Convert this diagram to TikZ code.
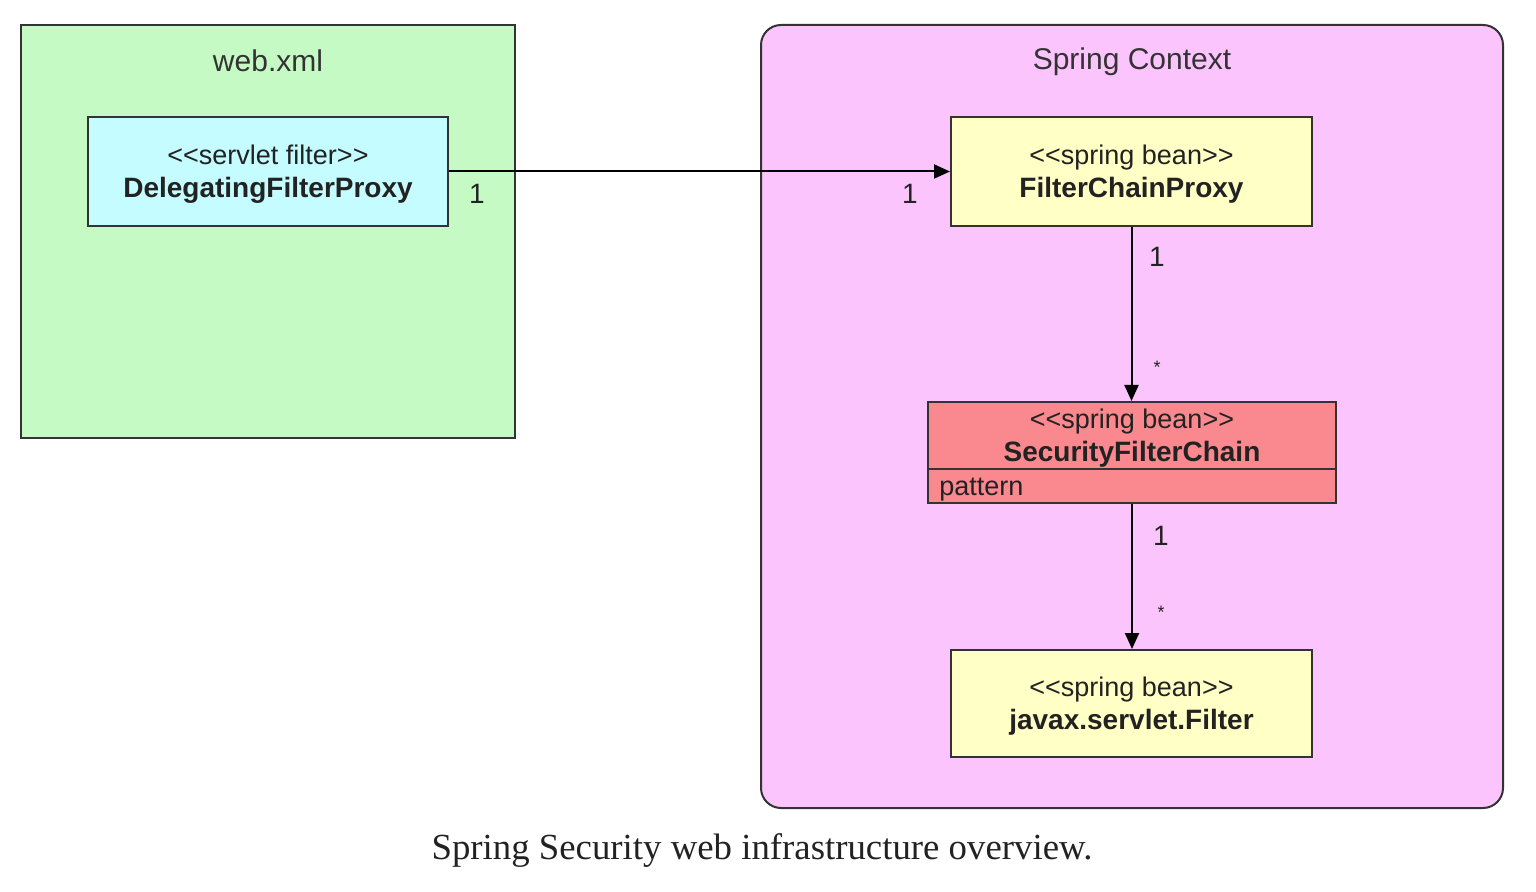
\documentclass[tikz,border=0pt]{standalone}
\usepackage{fontspec}
\setmainfont{Liberation Sans}
\newfontfamily\capfont{Liberation Serif}
\usetikzlibrary{arrows.meta}
\definecolor{webgreen}{HTML}{C6FAC4}
\definecolor{dfpcyan}{HTML}{C4FCFF}
\definecolor{springpink}{HTML}{FCC4FC}
\definecolor{beanyellow}{HTML}{FFFFC6}
\definecolor{sfcred}{HTML}{F9888F}
\definecolor{linegray}{HTML}{333333}
\definecolor{textgray}{HTML}{222222}
\begin{document}
\begin{tikzpicture}[x=0.5pt,y=-0.5pt,
  container/.style={draw=linegray, line width=1pt, inner sep=0pt},
  classbox/.style={draw=linegray, line width=1pt, inner sep=0pt},
  boxtext/.style={inner sep=0pt, align=center, text=textgray, font=\fontsize{13.5}{16.5}\selectfont},
  titletext/.style={inner sep=0pt, text=linegray, font=\fontsize{15}{18}\selectfont},
  mult/.style={inner sep=0pt, text=textgray, font=\fontsize{14}{16}\selectfont},
  conn/.style={draw=black, line width=1pt, -{Triangle[length=8pt,width=7pt]}}
]
\useasboundingbox (0,0) rectangle (1536,892);

% web.xml container
\node[container, fill=webgreen, minimum width=247pt, minimum height=206.5pt] (web) at (268,231.5) {};
\node[titletext] (webt) at (268,60.5) {web.xml};

% Spring context container
\node[container, fill=springpink, rounded corners=10pt, minimum width=371pt, minimum height=391.5pt] (spring) at (1132,416.5) {};
\node[titletext] (springt) at (1132,61.5) {Spring Context};

% DelegatingFilterProxy
\node[classbox, fill=dfpcyan, minimum width=180pt, minimum height=54.5pt] (dfp) at (268,171.5) {};
\node[boxtext] (dfpt) at (268,174.5)
  {<\kern0pt<servlet filter>\kern0pt>\\\fontsize{14}{16.5}\selectfont\bfseries DelegatingFilterProxy};

% FilterChainProxy
\node[classbox, fill=beanyellow, minimum width=180.5pt, minimum height=54.5pt] (fcp) at (1131.5,171.5) {};
\node[boxtext] (fcpt) at (1131.5,174.5)
  {<\kern0pt<spring bean>\kern0pt>\\\fontsize{14}{16.5}\selectfont\bfseries FilterChainProxy};

% SecurityFilterChain
\node[classbox, fill=sfcred, minimum width=204pt, minimum height=50.5pt] (sfc) at (1132,452.5) {};
\node[boxtext] (sfct) at (1132,438.5) {<\kern0pt<spring bean>\kern0pt>\\\fontsize{14}{16.5}\selectfont\bfseries SecurityFilterChain};
\coordinate (div) at (0,469);
\draw[draw=linegray, line width=1pt] (sfc.west |- div) -- (sfc.east |- div);
\node[boxtext, anchor=west] (pat) at (939,490) {pattern};

% javax.servlet.Filter
\node[classbox, fill=beanyellow, minimum width=180.5pt, minimum height=53.5pt] (jsf) at (1131.5,703.5) {};
\node[boxtext] (jsft) at (1131.5,706.5)
  {<\kern0pt<spring bean>\kern0pt>\\\fontsize{14}{16.5}\selectfont\bfseries javax.servlet.Filter};

% connectors
\draw[conn] (dfp.east) -- (fcp.west);
\draw[conn] (fcp.south) -- (fcp.south |- sfc.north);
\draw[conn] (sfc.south) -- (sfc.south |- jsf.north);

% multiplicities
\node[mult] (m1) at (477,194) {1};
\node[mult] (m2) at (910,194) {1};
\node[mult] (m3) at (1157,257) {1};
\node[mult, font=\fontsize{9}{11}\selectfont] (m4) at (1157,367) {*};
\node[mult] (m5) at (1161,536) {1};
\node[mult, font=\fontsize{9}{11}\selectfont] (m6) at (1161,612) {*};

% caption
\node[inner sep=0pt, text=textgray, font=\capfont\fontsize{18.4}{22}\selectfont] (cap) at (762,851)
  {Spring Security web infrastructure overview.};
\end{tikzpicture}
\end{document}
